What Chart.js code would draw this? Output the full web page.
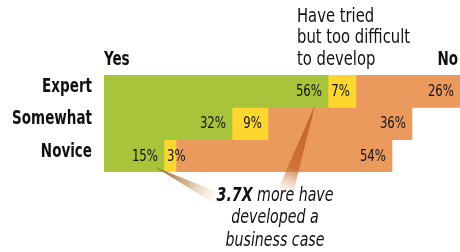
<!DOCTYPE html>
<html><head><meta charset="utf-8">
<script src="https://cdn.jsdelivr.net/npm/chart.js@4.4.0/dist/chart.umd.min.js"></script>
<style>html,body{margin:0;padding:0;background:#fff}#wrap{width:460px;height:252px}</style>
</head><body><div id="wrap"><canvas id="c" width="460" height="252"></canvas></div>
<script>
const categories = ["Expert", "Somewhat", "Novice"];
const yesValues = [56, 32, 15];
const triedValues = [7, 9, 3];
const noValues = [26, 36, 54];
const seriesNames = ["Yes", "Have tried but too difficult to develop", "No"];
const colors = ["#a7c43a", "#fdd62f", "#eb9a5e"];
const FONT = "'DejaVu Sans Condensed', 'DejaVu Sans', sans-serif";

function drawText(ctx, txt, x, y, align, sx) {
  ctx.save();
  ctx.translate(x, y);
  ctx.scale(sx, 1);
  ctx.textAlign = align;
  ctx.fillText(txt, 0, 0);
  ctx.restore();
}

const labelsPlugin = {
  id: 'labels',
  afterDatasetsDraw(chart) {
    const ctx = chart.ctx;
    const ca = chart.chartArea;
    // wedges
    ctx.save();
    let g = ctx.createLinearGradient(315, 105, 285, 194);
    g.addColorStop(0, 'rgba(190,92,34,0.95)');
    g.addColorStop(0.7, 'rgba(200,105,45,0.8)');
    g.addColorStop(1, 'rgba(225,160,110,0)');
    ctx.fillStyle = g;
    ctx.beginPath(); ctx.moveTo(315, 105); ctx.lineTo(293, 194); ctx.lineTo(276, 194); ctx.closePath(); ctx.fill();
    g = ctx.createLinearGradient(155, 167, 214, 198);
    g.addColorStop(0, 'rgba(140,90,35,1)');
    g.addColorStop(0.5, 'rgba(190,140,90,0.7)');
    g.addColorStop(1, 'rgba(230,200,170,0.1)');
    ctx.fillStyle = g;
    ctx.beginPath(); ctx.moveTo(155, 167); ctx.lineTo(215, 191); ctx.lineTo(215, 204); ctx.closePath(); ctx.fill();
    ctx.restore();
    // value labels
    ctx.save();
    ctx.font = "15px " + FONT;
    ctx.fillStyle = "#111";
    ctx.textBaseline = "middle";
    const sv = 0.87;
    chart.data.datasets.forEach((ds, di) => {
      const meta = chart.getDatasetMeta(di);
      meta.data.forEach((bar, i) => {
        const txt = ds.data[i] + "%";
        const w = ctx.measureText(txt).width * sv;
        const left = bar.base, right = bar.x;
        if (w > right - left - 6) {
          drawText(ctx, txt, left + 3, bar.y + 1, "left", sv);
        } else {
          drawText(ctx, txt, right - 6, bar.y + 1, "right", sv);
        }
      });
    });
    // category labels from y scale
    const ys = chart.scales.y;
    ctx.font = "bold 19px " + FONT;
    ys.ticks.forEach((t, i) => {
      drawText(ctx, chart.data.labels[i], ca.left - 12, ys.getPixelForTick(i) - 4, "right", 0.79);
    });
    // headers
    drawText(ctx, seriesNames[0], ca.left, 60.5, "left", 0.79);
    drawText(ctx, seriesNames[2], ca.right - 2, 60.5, "right", 0.79);
    ctx.font = "19px " + FONT;
    ["Have tried", "but too difficult", "to develop"].forEach((t, k) => drawText(ctx, t, 297, 17 + k * 21.5, "left", 0.865));
    // annotation
    const cx = 275, sa = 0.83;
    const b = "3.7X", rest = " more have";
    ctx.font = "italic bold 19px " + FONT;
    const wb = ctx.measureText(b).width * sa;
    ctx.font = "italic 19px " + FONT;
    const wr = ctx.measureText(rest).width * sa;
    const x0 = cx - (wb + wr) / 2;
    ctx.font = "italic bold 19px " + FONT;
    drawText(ctx, b, x0, 196, "left", sa);
    ctx.font = "italic 19px " + FONT;
    drawText(ctx, rest, x0 + wb, 196, "left", sa);
    drawText(ctx, "developed a", cx, 218.5, "center", sa);
    drawText(ctx, "business case", cx, 241, "center", sa);
    ctx.restore();
  }
};

new Chart(document.getElementById('c'), {
  type: 'bar',
  data: {
    labels: categories,
    datasets: [
      { label: seriesNames[0], data: yesValues, backgroundColor: colors[0] },
      { label: seriesNames[1], data: triedValues, backgroundColor: colors[1] },
      { label: seriesNames[2], data: noValues, backgroundColor: colors[2] }
    ]
  },
  options: {
    indexAxis: 'y',
    responsive: false,
    animation: false,
    devicePixelRatio: 1,
    layout: { padding: { top: 75, bottom: 80, left: 0, right: 0 } },
    datasets: { bar: { categoryPercentage: 1, barPercentage: 1, borderWidth: 0 } },
    plugins: { legend: { display: false }, tooltip: { enabled: false } },
    scales: {
      x: { stacked: true, display: false, min: 0, max: 89 },
      y: {
        stacked: true,
        grid: { display: false },
        border: { display: false },
        ticks: { display: false },
        afterFit(scale) { scale.width = 104; }
      }
    }
  },
  plugins: [labelsPlugin]
});
</script></body></html>
